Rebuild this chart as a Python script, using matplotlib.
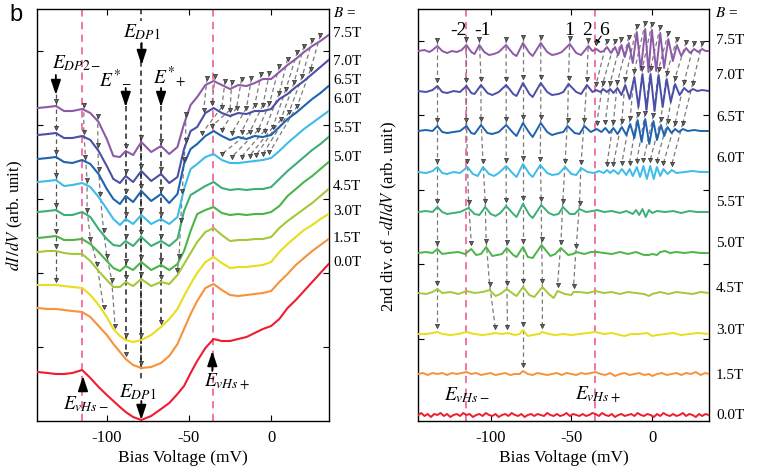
import numpy as np
import matplotlib.pyplot as plt

plt.rcParams['font.family'] = ['Liberation Serif', 'DejaVu Serif']
plt.rcParams['mathtext.fontset'] = 'stix'
plt.rcParams['axes.unicode_minus'] = False
plt.rcParams['xtick.direction'] = 'in'
plt.rcParams['ytick.direction'] = 'in'

fields = ['7.5T', '7.0T', '6.5T', '6.0T', '5.5T', '5.0T', '4.5T', '3.0T', '1.5T', '0.0T']
colors = ['#8d5aa8', '#4b4fa6', '#1f63ae', '#3cbde8', '#3daf76',
          '#4cb548', '#a3c93a', '#e9dd1c', '#f7923a', '#ee1c2e']

# ---- left panel: dI/dV (stacked, arb. unit) ----
bias = [-142, -136, -131, -126, -121, -115, -110, -105, -100, -96, -92, -88.5, -84,
        -79, -73, -67, -62, -57, -53, -49, -45, -40, -35, -30, -25, -20, -15, -10,
        -5, 0, 5, 10, 15, 20, 25, 30, 35]
didv_75 = [313, 314, 315, 310, 310, 312, 308, 299, 282, 265, 264, 270, 266, 279, 269, 275,
           267, 274, 297, 316, 324, 336, 340, 336, 332, 336, 335, 338, 342, 342, 349, 356,
           362, 369, 375, 380, 386]
didv_70 = [286, 287, 288, 283, 283, 285, 281, 270, 255, 242, 238, 245, 239, 250, 240, 247,
           238, 244, 272, 290, 294, 308, 313, 308, 305, 308, 307, 310, 310, 312, 322, 327,
           334, 340, 347, 354, 361]
didv_65 = [262, 263, 264, 259, 258, 261, 257, 247, 232, 222, 217, 225, 219, 230, 220, 227,
           218, 227, 257, 272, 277, 285, 290, 285, 281, 284, 282, 285, 284, 286, 294, 302,
           308, 315, 322, 328, 335]
didv_60 = [239, 240, 241, 235, 236, 238, 234, 224, 212, 202, 196, 202, 197, 206, 197, 202,
           197, 204, 232, 252, 257, 264, 267, 261, 258, 258, 259, 260, 261, 263, 270, 278,
           285, 292, 298, 304, 310]
didv_55 = [209, 210, 211, 206, 206, 209, 204, 192, 182, 176, 175, 180, 175, 184, 175, 180,
           175, 182, 210, 226, 230, 235, 239, 233, 231, 232, 231, 232, 232, 234, 242, 250,
           257, 264, 271, 277, 284]
didv_50 = [183, 184, 185, 181, 181, 182, 177, 169, 160, 153, 150, 155, 151, 159, 151, 156,
           151, 157, 170, 190, 207, 211, 214, 208, 206, 207, 206, 207, 207, 209, 215, 225,
           232, 239, 245, 252, 259]
didv_45 = [169, 170, 170, 168, 167, 167, 160, 150, 141, 134, 134, 139, 135, 142, 135, 139,
           137, 146, 157, 168, 179, 189, 193, 186, 180, 181, 181, 182, 182, 184, 193, 200,
           206, 212, 218, 225, 232]
didv_30 = [136, 136, 136, 135, 134, 133, 126, 116, 104, 92, 85, 81, 79, 81, 86, 94,
           102, 112, 125, 137, 148, 159, 164, 158, 153, 154, 154, 155, 156, 159, 169, 177,
           184, 191, 196, 202, 207]
didv_15 = [113, 112, 112, 111, 110, 109, 104, 95, 86, 77, 69, 62, 56, 53, 54, 58,
           65, 77, 92, 107, 120, 133, 137, 131, 126, 125, 126, 127, 128, 130, 139, 147,
           156, 163, 170, 176, 182]
didv_00 = [49, 48, 47, 47, 48, 51, 43, 34, 26, 20, 14, 9, 4, 1, 5, 12,
           18, 27, 35, 48, 60, 73, 82, 80, 80, 82, 84, 88, 92, 95, 102, 113,
           121, 130, 139, 148, 157]
didv = [didv_75, didv_70, didv_65, didv_60, didv_55, didv_50, didv_45, didv_30, didv_15, didv_00]

# peak tracks marked in left panel (bias per field, None = not marked)
track_dp2 = [-131, -131, -131, -131, -131, -131, -131, -131]
track_l2 = [-114, -114, -113, -112, -112, -110, -106, -102]
track_l3 = [-105.5, -105.5, -105, -104, -102, -100, -97, -95]
track_em = [-88.5] * 9
track_dp1 = [-79] * 9
track_ep = [-67] * 8
track_l7 = [-52, -52, -53, -54, -55, -56, -57]
fan_l75 = [-39, -34, -28, -24, -18, -12, -6, -1, 5, 10, 16, 20, 25, 30]
fan_l70 = [-41, -36, -30, -25, -21, -15, -10, -5, -1, 5, 9, 14, 19, 24]
fan_l65 = [-42, -36, -30, -24, -18, -13, -8, -4, 1, 6, 11, 16]
fan_l60 = [-30, -24, -18, -13, -9, -5, -1]

# ---- right panel: 2nd derivative (signal around each baseline) ----
d2_75 = [(-145, 0), (-141, 1), (-138, -1), (-136, 1), (-133, 5), (-130, 0), (-127, -2), (-124, 0),
         (-121, -1), (-118, 1), (-115, 6), (-112, -1), (-110, -3), (-107, 6), (-104, -1), (-101, -4),
         (-98, -3), (-95, -1), (-90.5, 6), (-86, -3), (-84, -5), (-80, 8), (-76, -2), (-74, -5),
         (-69, 8), (-65, -1), (-62, -4), (-59, -3), (-56, -1), (-51, 7), (-47, -2), (-44, -4),
         (-39.5, 5), (-37, 0), (-34.5, 2), (-32, -1), (-30, 0), (-28, 4), (-25.5, -2), (-23, 4),
         (-21, -4), (-19, 6), (-17, -6), (-14.5, 8), (-12, -12), (-9.5, 19), (-7, -19), (-4.3, 22),
         (-2.3, -21), (-0.2, 21), (2.5, -20), (5, 18), (7.4, -17), (10, 12), (12.8, -10), (15.3, 6),
         (18, -5), (21, 3), (23.5, -2), (26, 2), (28.5, -1), (31, 2), (33, 0), (35, 0)]
d2_70 = [(-145, 0), (-140, -1), (-136, 1), (-133, 5), (-130, -1), (-127, -2), (-123, 0), (-119, -1),
         (-115, 5), (-112, -2), (-110, -3), (-106, 6), (-102, -2), (-99, -4), (-95, -1), (-90.4, 6),
         (-86, -3), (-84, -5), (-80, 8), (-76, -3), (-74, -6), (-69, 8), (-65, -1), (-62, -4),
         (-58, -3), (-55, -1), (-51.8, 7), (-47, -1), (-44, -3), (-40.4, 6), (-37, -1), (-34.7, 1),
         (-32, -1), (-30.5, 2), (-28, -1), (-26, 2), (-24, -2), (-21.5, 3), (-19, -4), (-16.7, 6),
         (-14, -8), (-11, 14), (-8.5, -16), (-6, 17), (-3.5, -19), (-1, 17), (1.5, -20), (4, 16),
         (6.5, -16), (9, 12), (11.5, -11), (14.2, 7), (17, -4), (19.8, 3), (22.5, -1), (25.2, 2),
         (28, 0), (31, 1), (35, 0)]
d2_65 = [(-145, 0), (-140, 1), (-136, 0), (-133, 5), (-130, -1), (-127, -2), (-123, -1), (-119, 0),
         (-115, 5), (-112, -2), (-110, -3), (-106, 6), (-102, -2), (-99, -3), (-95, -1), (-90.4, 6),
         (-86, -2), (-84, -5), (-80, 8), (-76, -2), (-74, -6), (-69, 8), (-65, -1), (-62, -4),
         (-58, -2), (-55, -1), (-52.4, 5), (-48, -2), (-45, -3), (-42, 5), (-38, -1), (-34.3, 2),
         (-31.5, -1), (-29, 3), (-26.5, -2), (-24, 3), (-21.5, -3), (-18.8, 4), (-16, -4), (-13.6, 7),
         (-11, -7), (-9, 11), (-6.5, -11), (-4.3, 12), (-1.8, -13), (0.8, 10), (3, -9), (5.4, 6),
         (7.5, -5), (9.5, 4), (12, -2), (14.2, 2), (16.5, -1), (19, 2), (22, 0), (26, 1), (30, 0), (35, 0)]
d2_60 = [(-145, 0), (-140, -1), (-136, 1), (-133, 5), (-130, -1), (-127, -2), (-123, 0), (-119, -1),
         (-114.4, 5), (-111, -2), (-108, -4), (-104.8, 5), (-101, -2), (-98, -4), (-95, -1), (-90.4, 6),
         (-86, -2), (-84, -5), (-80, 8), (-76, -2), (-74, -5), (-69.3, 7), (-65, -1), (-62, -3),
         (-58, -2), (-53.9, 5), (-50, -2), (-47, -3), (-44, 4), (-40, 0), (-36, -1), (-33, 1),
         (-30, -1), (-28, 2), (-26, -1), (-24, 2), (-21, -2), (-18.8, 3), (-16, -3), (-14, 3),
         (-12, -4), (-9.5, 5), (-7.5, -5), (-5.4, 6), (-3.3, -7), (-1.2, 6), (1, -7), (2.9, 5),
         (5, -4), (7, 3), (9.5, -2), (12.2, 2), (15, -1), (20, 0), (25, 1), (30, 0), (35, 0)]
d2_55 = [(-145, 0), (-140, 1), (-136, 0), (-133, 5), (-130, 0), (-127, -2), (-123, -1), (-119, 0),
         (-113.7, 4), (-110, -2), (-107, -3), (-103.4, 5), (-100, -2), (-97, -4), (-94, -1), (-90.4, 6),
         (-86, -2), (-84, -5), (-80, 8), (-76, -3), (-74, -6), (-68.7, 7), (-64, -1), (-61, -3),
         (-58, -2), (-55.3, 5), (-51, -2), (-48, -2), (-45, 3), (-41, 0), (-37, 1), (-34, 2),
         (-30, 0), (-25, 1), (-20, -1), (-16, 1), (-12, -2), (-10, 2), (-8, -3), (-6, 3),
         (-4, -5), (-2, 2), (0, -1), (3, 1), (8, 0), (13, 1), (18, -1), (23, 1), (28, 0), (35, 0)]
d2_50 = [(-145, 0), (-140, 1), (-136, 0), (-133, 4), (-130, -1), (-126, 0), (-120, 1), (-116, -1),
         (-112, 4), (-109, -2), (-106, -1), (-102.8, 6), (-99, -3), (-96, -2), (-93, -1), (-90, 5),
         (-86, -2), (-84, -4), (-80, 6), (-77, -4), (-74, -5), (-68.5, 8), (-63, -3), (-60, -1),
         (-56.5, 5), (-52, -2), (-49, -1), (-47, 1), (-42, -1), (-38, 1), (-34, 1), (-30, 0),
         (-25, -1), (-20, 1), (-15, -1), (-10, 1), (-5, -2), (-2, -2), (0, -1), (3, -2),
         (5, 1), (8, 2), (11, 0), (15, 1), (20, 0), (25, 1), (30, 0), (35, 0)]
d2_45 = [(-145, 0), (-140, -1), (-136, 1), (-133, 4), (-130, 0), (-125, 1), (-120, -1), (-115, 2),
         (-110, 0), (-105, 1), (-100.7, 3), (-97, -3), (-94, -1), (-90, 4), (-86, -1), (-84, -3),
         (-80, 6), (-76, -2), (-73, -4), (-68, 6), (-64, -1), (-61, -5), (-58.6, 2), (-54, -1),
         (-50, -2), (-48.7, 1), (-45, 1), (-40, 0), (-35, 2), (-30, 0), (-25, 1), (-20, -1),
         (-15, 1), (-10, 0), (-5, -1), (-2, -3), (0, -1), (5, 1), (10, -1), (15, 1), (20, 0),
         (25, -1), (30, 1), (35, 0)]
d2_30 = [(-145, 0), (-140, 0), (-136, 1), (-133, 2), (-130, 0), (-125, -1), (-120, 0), (-115, 2),
         (-110, 0), (-105, -1), (-100, 0), (-97.2, 1), (-93, 0), (-89.6, 1), (-85, -1), (-82, 0),
         (-80, 4), (-77, -2), (-74, -1), (-70, 0), (-68, 2), (-64, 0), (-60, -1), (-55, 0),
         (-50, -1), (-45, 0), (-40, 1), (-35, 2), (-30, 0), (-25, 1), (-20, -1), (-17, -2),
         (-13, 0), (-8, 0), (-3, 1), (0, -2), (3, -1), (8, 0), (13, 1), (18, -1), (23, 0),
         (28, 1), (35, 0)]
d2_15 = [(-145, 0), (-142, 1), (-139, -1), (-136, 1), (-133, 0), (-130, 1), (-127, -1), (-124, 1),
         (-121, 0), (-118, 1), (-115, 2), (-112, 0), (-109, 1), (-106, -1), (-103, 0), (-100, 1),
         (-97, -1), (-94, 0), (-91, 1), (-88, -1), (-85, 0), (-82, 0), (-80, 3), (-77, 0),
         (-74, -1), (-71, 1), (-68, 0), (-65, -1), (-62, 0), (-59, 1), (-56, -1), (-53, 1),
         (-50, 0), (-47, -1), (-44, 1), (-41, 0), (-38, 1), (-35, 2), (-32, 0), (-29, -1),
         (-26, 1), (-23, -2), (-20, 0), (-17, 1), (-14, -1), (-11, 0), (-8, 1), (-5, -1),
         (-2, 0), (0, -2), (3, 0), (6, 1), (9, -1), (12, 0), (15, 1), (18, -1), (21, 1),
         (24, 0), (27, 2), (30, -1), (33, 1), (35, 0)]
d2_00 = [(-145, 0), (-143, 2), (-141, -1), (-139, 1), (-137, -2), (-135, 1), (-133, 0), (-131, 2),
         (-129, -1), (-127, 1), (-125, -2), (-123, 0), (-121, 1), (-119, -1), (-117, 2), (-115, 0),
         (-113, 1), (-111, -2), (-109, 0), (-107, 1), (-105, -1), (-103, 2), (-101, 0), (-99, -1),
         (-97, 1), (-95, -2), (-93, 0), (-91, 1), (-89, -1), (-87, 2), (-85, 0), (-83, -1),
         (-81, 1), (-79, -2), (-77, 0), (-75, 1), (-73, -1), (-71, 1), (-69, 0), (-67, -1),
         (-65, 2), (-63, 0), (-61, -1), (-59, 1), (-57, -1), (-55, 0), (-53, 2), (-51, -1),
         (-49, 1), (-47, 0), (-45, -1), (-43, 1), (-41, -1), (-39, 0), (-37, 2), (-35, 1),
         (-33, -1), (-31, 2), (-29, 0), (-27, -1), (-25, 1), (-23, -2), (-21, 0), (-19, 1),
         (-17, -1), (-15, 0), (-13, 1), (-11, -1), (-9, 2), (-7, 0), (-5, -1), (-3, 1),
         (-1, 0), (1, -2), (3, 1), (5, -1), (7, 2), (9, 0), (11, -1), (13, 1), (15, -1),
         (17, 0), (19, 2), (21, -1), (23, 1), (25, 0), (27, -2), (29, 1), (31, -1), (33, 1), (35, 0)]
d2 = [d2_75, d2_70, d2_65, d2_60, d2_55, d2_50, d2_45, d2_30, d2_15, d2_00]
baseline_r = [370, 330, 290, 249, 209, 168, 128, 87, 47, 6]

track_r1 = [-133] * 8
track_r2 = [-115, -115, -115, -114.4, -113.7, -112]
track_r3 = [-107, -106, -106, -104.8, -103.4, -102.8, -100.7, -97.2]
track_r4 = [-90.5, -90.4, -90.4, -90.4, -90.4, -90, -90, -89.6]
track_r5 = [-80] * 9
track_r6 = [-69, -69, -69, -69.3, -68.7, -68.5, -68, -68]
track_r7 = [-51, -51.8, -52.4, -53.9, -55.3, -56.5, -58.6]
track_r8 = [-39.5, -40.4, -42, -44, -45, -47, -48.7]
fan_r75 = [-34.5, -28, -23, -19, -14.5, -9.5, -4.3, -0.2, 5, 10, 15.3, 21, 26, 31]
fan_r70 = [-34.7, -30.5, -26, -21.5, -16.7, -11, -6, -1, 4, 9, 14.2, 19.8, 25.2]
fan_r65 = [-34.3, -29, -24, -18.8, -13.6, -9, -4.3, 0.8, 5.4, 9.5, 14.2, 19]
fan_r60 = [-28, -24, -18.8, -14, -9.5, -5.4, -1.2, 2.9, 7, 12.2]

# label heights next to the curves
label_y_left = [389, 361, 342, 323, 294, 265, 236, 211, 184, 160]
label_y_right = [382, 347, 305, 264, 220, 179, 134, 92, 47, 7]

# ---------------------------------------------------------------
fig = plt.figure(figsize=(7.67, 4.77), dpi=100)
axL = fig.add_axes([0.0482, 0.1153, 0.3807, 0.8637])
axR = fig.add_axes([0.545, 0.1153, 0.3794, 0.8637])

pink = '#f06aa2'
mk = dict(marker='v', ms=3.0, mfc='#6a6a6a', mec='#2a2a2a', mew=0.5, ls='none', zorder=5)


def curve_xy(i, side):
    if side == 'L':
        return np.array(bias), np.array(didv[i], float)
    pts = np.array(d2[i], float)
    return pts[:, 0], pts[:, 1] + baseline_r[i]


def draw_track(ax, side, xs, dy, color='#7a7a7a', top=None, lw=0.9):
    pts = []
    for i, x in enumerate(xs):
        if x is None:
            continue
        cx, cy = curve_xy(i, side)
        pts.append((x, np.interp(x, cx, cy) + dy))
    lx = [p[0] for p in pts]
    ly = [p[1] for p in pts]
    if top is not None:
        lx = [lx[0]] + lx
        ly = [top] + ly
    ax.plot(lx, ly, ls=(0, (3.5, 2.5)), color=color, lw=lw, zorder=3)
    ax.plot([p[0] for p in pts], [p[1] for p in pts], **mk)


def draw_fan(ax, side, fans, dy):
    marks = []
    for i, f in enumerate(fans):
        cx, cy = curve_xy(i, side)
        marks.append([(x, np.interp(x, cx, cy) + dy) for x in f])
    for k in range(len(marks) - 1):
        a, b = marks[k], marks[k + 1]
        n = min(len(a), len(b))
        for j in range(n):
            pa, pb = a[len(a) - n + j], b[len(b) - n + j]
            ax.plot([pa[0], pb[0]], [pa[1], pb[1]], ls=(0, (3.5, 2.5)),
                    color='#7a7a7a', lw=0.9, zorder=3)
    for m in marks:
        ax.plot([p[0] for p in m], [p[1] for p in m], **mk)


def arrow(ax, x, y_from, y_to):
    ax.annotate('', xy=(x, y_to), xytext=(x, y_from),
                arrowprops=dict(arrowstyle='-|>,head_length=0.9,head_width=0.3',
                                color='k', lw=1.3, shrinkA=0, shrinkB=0), zorder=6)


for ax, lo in [(axL, -142.5), (axR, -145)]:
    ax.set_xlim(lo, 35.2)
    ax.set_ylim(0, 412)
    ax.set_xticks([-100, -50, 0])
    ax.tick_params(which='both', top=True, right=True, length=4, width=0.8,
                   labelsize=12, pad=6, labelleft=False)
    for s in ax.spines.values():
        s.set_linewidth(1.0)
    for xv in (-115, -35.5):
        ax.axvline(xv, color=pink, lw=1.3, ls=(0, (4, 3)), zorder=2)
    ax.set_xlabel('Bias Voltage (mV)', fontsize=12.5)
    ax.xaxis.set_label_coords(0.5, -0.068)

axL.set_yticks([74, 148, 222, 296, 370])
axR.set_yticks([82, 157, 231, 306, 380])

# left curves
for i in range(len(fields)):
    axL.plot(bias, didv[i], color=colors[i], lw=1.5, zorder=4)

draw_track(axL, 'L', track_dp2, 5, color='#555555', top=327)
draw_track(axL, 'L', track_l2, 5)
draw_track(axL, 'L', track_l3, 5)
draw_track(axL, 'L', track_em, 5, color='#222222', top=315, lw=1.1)
draw_track(axL, 'L', track_dp1, 5, color='#222222', lw=1.1)
draw_track(axL, 'L', track_ep, 5, color='#222222', top=315, lw=1.1)
draw_track(axL, 'L', track_l7, 5)
draw_fan(axL, 'L', [fan_l75, fan_l70, fan_l65, fan_l60], 6)
axL.plot([-79, -79], [412, 400], ls=(0, (3.5, 2.5)), color='#222222', lw=1.1)
axL.plot([-79, -79], [378, 40], ls=(0, (3.5, 2.5)), color='#222222', lw=1.1, zorder=3)

arrow(axL, -131, 346, 326)
arrow(axL, -78.8, 378, 356)
arrow(axL, -88.5, 333, 314)
arrow(axL, -67, 333, 314)
arrow(axL, -114.5, 31, 45)
arrow(axL, -79, 20, 1)
arrow(axL, -35.8, 50, 70)

tfs = 14
axL.text(-78.8, 390, r'$E_{DP1}$', fontsize=tfs, ha='center', va='center')
axL.text(-133.5, 359, r'$E_{DP2-}$', fontsize=tfs, ha='left', va='center')
axL.text(-95, 344, r'$E^{*}{}_{-}$', fontsize=tfs, ha='center', va='center')
axL.text(-62, 344, r'$E^{*}{}_{+}$', fontsize=tfs, ha='center', va='center')
axL.text(-113, 18, r'$E_{vHs-}$', fontsize=tfs, ha='center', va='center')
axL.text(-81, 30, r'$E_{DP1}$', fontsize=tfs, ha='center', va='center')
axL.text(-27, 40, r'$E_{vHs+}$', fontsize=tfs, ha='center', va='center')

tL = axL.get_yaxis_transform()
axL.text(1.014, 409, r'$B$ =', transform=tL, fontsize=11, ha='left', va='center')
for lab, yv in zip(fields, label_y_left):
    axL.text(1.014, yv, lab, transform=tL, fontsize=11, ha='left', va='center')
axL.set_ylabel(r'$dI\,/dV$ (arb. unit)', fontsize=12)
axL.yaxis.set_label_coords(-0.04, 0.5)

# right curves
for i in range(len(fields)):
    cx, cy = curve_xy(i, 'R')
    axR.plot(cx, cy, color=colors[i], lw=1.4, zorder=4)

for tr in [track_r1, track_r2, track_r3, track_r4, track_r5, track_r6, track_r7, track_r8]:
    draw_track(axR, 'R', tr, 6)
draw_fan(axR, 'R', [fan_r75, fan_r70, fan_r65, fan_r60], 6)

for txt, xv in [('-2', -120), ('-1', -105), ('1', -51.4), ('2', -40.2), ('6', -29.7)]:
    axR.text(xv, 392, txt, fontsize=14, ha='center', va='center')
axR.annotate('', xy=(-35.5, 376), xytext=(-31.5, 385),
             arrowprops=dict(arrowstyle='-|>,head_length=0.3,head_width=0.15',
                             color='k', lw=0.8, shrinkA=0, shrinkB=0))
axR.text(-114.5, 27, r'$E_{vHs-}$', fontsize=tfs, ha='center', va='center')
axR.text(-33.4, 27, r'$E_{vHs+}$', fontsize=tfs, ha='center', va='center')

tR = axR.get_yaxis_transform()
axR.text(1.02, 409, r'$B$ =', transform=tR, fontsize=11, ha='left', va='center')
for lab, yv in zip(fields, label_y_right):
    axR.text(1.024, yv, lab, transform=tR, fontsize=11, ha='left', va='center')
axR.set_ylabel(r'2nd div. of -$dI/dV$ (arb. unit)', fontsize=12)
axR.yaxis.set_label_coords(-0.065, 0.5)

fig.text(0.012, 0.992, 'b', fontsize=17, family='Liberation Sans', ha='left', va='top')

fig.savefig('out.png', dpi=100)
